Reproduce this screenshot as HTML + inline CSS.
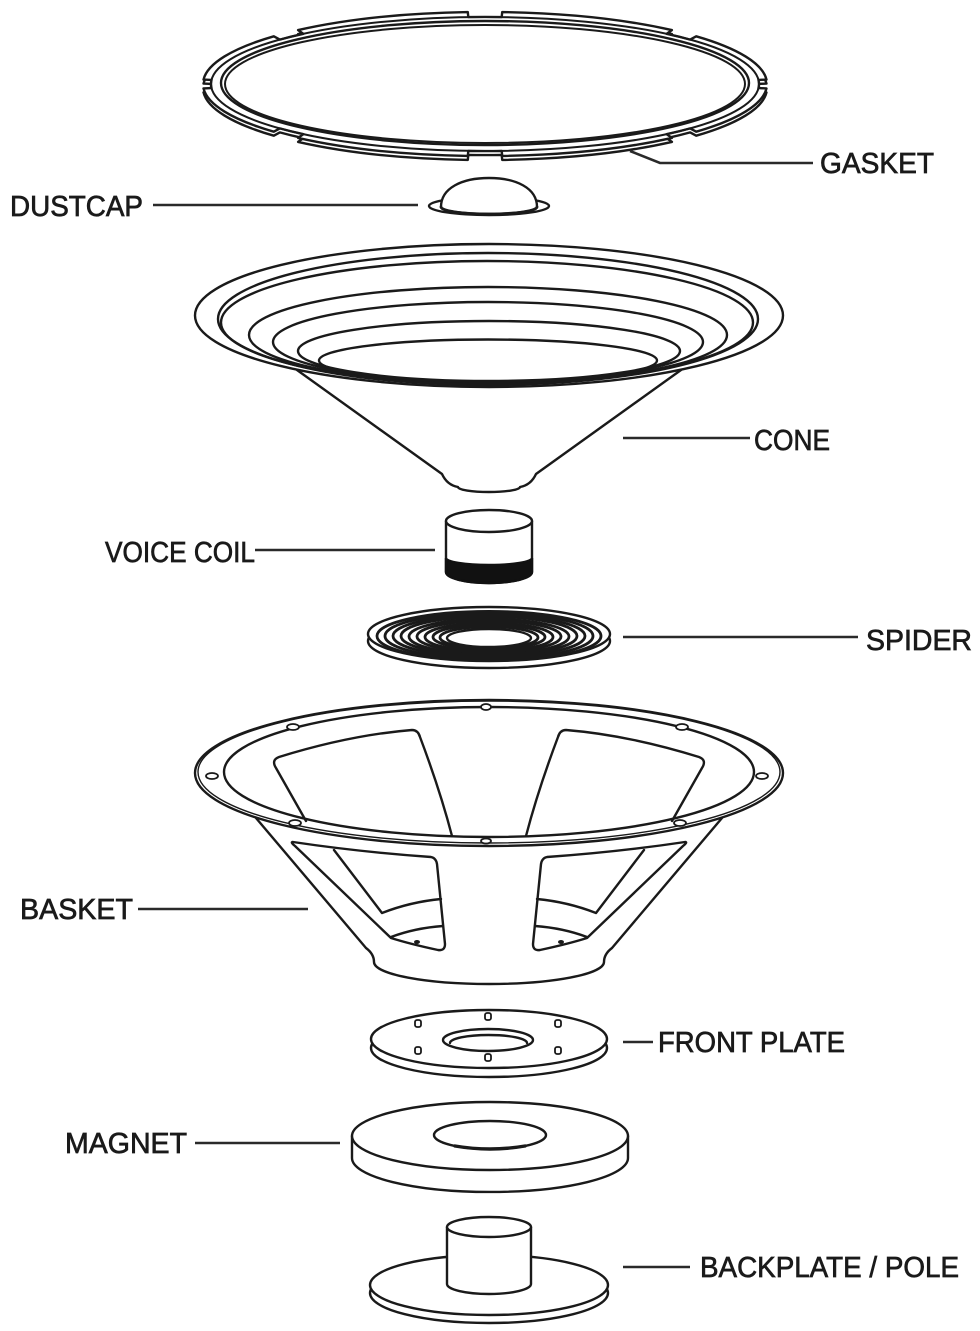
<!DOCTYPE html>
<html>
<head>
<meta charset="utf-8">
<style>
  html,body{margin:0;padding:0;background:#fff;}
  svg{display:block;}
  .d{fill:none;stroke:#1a1a1a;stroke-width:2.4;stroke-linejoin:round;stroke-linecap:round;}
  .w{fill:#fff;stroke:#1a1a1a;stroke-width:2.4;stroke-linejoin:round;stroke-linecap:round;}
  .l{fill:none;stroke:#2a2a2a;stroke-width:2.6;}
  .t{font-family:"Liberation Sans",Arial,sans-serif;font-size:29px;fill:#1a1a1a;stroke:#1a1a1a;stroke-width:0.7;}
</style>
</head>
<body>
<svg width="980" height="1331" viewBox="0 0 980 1331" xmlns="http://www.w3.org/2000/svg">

<!-- ================= GASKET ================= -->
<g>
  <path class="w" transform="translate(0,4)" d="M 766.5 88.4 A 282 72 0 0 1 696.2 131.7 L 690.2 128.4 A 274 67 0 0 1 666.6 134.2 L 671.9 137.9 A 282 72 0 0 1 502.2 155.9 L 501.7 150.9 A 274 67 0 0 1 468.3 150.9 L 467.8 155.9 A 282 72 0 0 1 298.1 137.9 L 303.4 134.2 A 274 67 0 0 1 279.8 128.4 L 273.8 131.7 A 282 72 0 0 1 203.5 88.4 L 211.5 88.1 A 274 67 0 0 1 211.5 79.9 L 203.5 79.6 A 282 72 0 0 1 273.8 36.3 L 279.8 39.6 A 274 67 0 0 1 303.4 33.8 L 298.1 30.1 A 282 72 0 0 1 467.8 12.1 L 468.3 17.1 A 274 67 0 0 1 501.7 17.1 L 502.2 12.1 A 282 72 0 0 1 671.9 30.1 L 666.6 33.8 A 274 67 0 0 1 690.2 39.6 L 696.2 36.3 A 282 72 0 0 1 766.5 79.6 L 758.5 79.9 A 274 67 0 0 1 758.5 88.1 Z"/>
  <path class="w" d="M 766.5 88.4 A 282 72 0 0 1 696.2 131.7 L 690.2 128.4 A 274 67 0 0 1 666.6 134.2 L 671.9 137.9 A 282 72 0 0 1 502.2 155.9 L 501.7 150.9 A 274 67 0 0 1 468.3 150.9 L 467.8 155.9 A 282 72 0 0 1 298.1 137.9 L 303.4 134.2 A 274 67 0 0 1 279.8 128.4 L 273.8 131.7 A 282 72 0 0 1 203.5 88.4 L 211.5 88.1 A 274 67 0 0 1 211.5 79.9 L 203.5 79.6 A 282 72 0 0 1 273.8 36.3 L 279.8 39.6 A 274 67 0 0 1 303.4 33.8 L 298.1 30.1 A 282 72 0 0 1 467.8 12.1 L 468.3 17.1 A 274 67 0 0 1 501.7 17.1 L 502.2 12.1 A 282 72 0 0 1 671.9 30.1 L 666.6 33.8 A 274 67 0 0 1 690.2 39.6 L 696.2 36.3 A 282 72 0 0 1 766.5 79.6 L 758.5 79.9 A 274 67 0 0 1 758.5 88.1 Z"/>
  <ellipse class="d" cx="485" cy="84" rx="274" ry="67" style="stroke-width:2"/>
  <ellipse class="w" cx="485" cy="83" rx="264" ry="62"/>
  <ellipse class="d" cx="485" cy="84" rx="260" ry="59" style="stroke-width:2"/>
</g>
<polyline class="l" points="630,151 660,163 813,163"/>
<text class="t" x="820" y="173" textLength="114" lengthAdjust="spacingAndGlyphs">GASKET</text>

<!-- ================= DUSTCAP ================= -->
<g>
  <ellipse class="w" cx="489" cy="206" rx="60" ry="9"/>
  <path class="w" d="M441 207 C441 188 462 178 489 178 C516 178 537 188 537 207 A48 7 0 0 1 441 207 Z"/>
  <path class="d" style="stroke-width:2.8" d="M441 207 A48 7 0 0 0 537 207"/>
</g>
<line class="l" x1="153" y1="205" x2="418" y2="205"/>
<text class="t" x="10" y="216" textLength="133" lengthAdjust="spacingAndGlyphs">DUSTCAP</text>

<!-- ================= CONE ================= -->
<g>
  <path class="w" d="M297 370 L442 474 Q447 485 458 487 A31 5 0 0 0 520 487 Q531 485 536 474 L681 370 Z"/>
  <ellipse class="w" cx="489" cy="315.5" rx="294" ry="71.5"/>
  <ellipse class="d" cx="488" cy="319" rx="270" ry="66"/>
  <ellipse class="d" cx="487" cy="322.5" rx="266" ry="61.5"/>
  <ellipse class="d" cx="488" cy="335" rx="239" ry="48"/>
  <ellipse class="d" cx="488" cy="342" rx="215" ry="40"/>
  <ellipse class="d" cx="489" cy="351" rx="191" ry="30"/>
  <ellipse class="d" cx="488" cy="360.5" rx="169" ry="21"/>
</g>
<line class="l" x1="623" y1="438" x2="750" y2="438"/>
<text class="t" x="754" y="450" textLength="76" lengthAdjust="spacingAndGlyphs">CONE</text>

<!-- ================= VOICE COIL ================= -->
<g>
  <path class="w" d="M446 521 L446 572 A43 11 0 0 0 532 572 L532 521 Z"/>
  <path d="M446 558 A43 7 0 0 0 532 558 L532 572 A43 11 0 0 1 446 572 Z" fill="#111" stroke="#111" stroke-width="2.4"/>
  <ellipse class="w" cx="489" cy="521" rx="43" ry="11"/>
</g>
<line class="l" x1="255" y1="550" x2="435" y2="550"/>
<text class="t" x="105" y="562" textLength="150" lengthAdjust="spacingAndGlyphs">VOICE COIL</text>

<!-- ================= SPIDER ================= -->
<g>
  <ellipse class="w" cx="489" cy="641" rx="121" ry="27"/>
  <ellipse class="w" cx="489" cy="634" rx="121" ry="27"/>
  <g class="d" style="stroke-width:2.8">
    <ellipse cx="489" cy="636" rx="112" ry="24.6"/>
    <ellipse cx="489" cy="636" rx="104" ry="22.9"/>
    <ellipse cx="489" cy="636" rx="96" ry="21.1"/>
    <ellipse cx="489" cy="636" rx="88" ry="19.4"/>
    <ellipse cx="489" cy="636.5" rx="80" ry="17.6"/>
    <ellipse cx="489" cy="636.5" rx="72" ry="15.8"/>
    <ellipse cx="489" cy="637" rx="64" ry="14.1"/>
    <ellipse cx="489" cy="637" rx="56" ry="12.3"/>
    <ellipse cx="489" cy="637.5" rx="49" ry="10.8"/>
  </g>
  <ellipse class="w" cx="489" cy="638" rx="42" ry="9"/>
</g>
<line class="l" x1="623" y1="637" x2="858" y2="637"/>
<text class="t" x="866" y="650" textLength="106" lengthAdjust="spacingAndGlyphs">SPIDER</text>

<!-- ================= BASKET ================= -->
<g>
  <path class="w" d="M256 818 L366 948 Q374 954 374 962 A115 22 0 0 0 604 962 Q604 954 612 948 L722 818 Z"/>
  <path class="w" d="M293 842 Q360 852 431 857 Q436 858 437 864 L445 944 Q445 951 438 950 Q410 944 391 938 L295 846 Q290 842 293 842 Z"/>
  <path class="d" d="M334 850 L382 913 Q410 902 441 899"/>
  <path class="d" d="M391 937 Q415 928 443 926"/>
  <ellipse cx="417" cy="942" rx="3" ry="2" fill="#1a1a1a"/>
  <path class="w" d="M685 842 Q618 852 547 857 Q542 858 541 864 L533 944 Q533 951 540 950 Q568 944 587 938 L683 846 Q688 842 685 842 Z"/>
  <path class="d" d="M644 850 L596 913 Q568 902 537 899"/>
  <path class="d" d="M587 937 Q563 928 535 926"/>
  <ellipse cx="561" cy="942" rx="3" ry="2" fill="#1a1a1a"/>
  <ellipse class="w" cx="489" cy="773" rx="294" ry="73"/>
  <ellipse class="d" cx="489" cy="772" rx="291" ry="71" style="stroke-width:1.4"/>
  <ellipse class="w" cx="489" cy="772" rx="265" ry="65"/>
  <path class="d" d="M306 821 L276 768 Q271 760 279 757 Q350 735 412 730 Q418 730 420 737 Q440 790 452 836"/>
  <path class="d" d="M672 821 L702 768 Q707 760 699 757 Q628 735 566 730 Q560 730 558 737 Q538 790 526 836"/>
  <g class="w" style="stroke-width:1.8">
    <ellipse cx="486" cy="707" rx="5" ry="3"/>
    <ellipse cx="293" cy="727" rx="6" ry="3"/>
    <ellipse cx="682" cy="727" rx="6" ry="3"/>
    <ellipse cx="212" cy="776" rx="6" ry="3"/>
    <ellipse cx="762" cy="776" rx="6" ry="3"/>
    <ellipse cx="295" cy="823" rx="6" ry="3"/>
    <ellipse cx="680" cy="823" rx="6" ry="3"/>
    <ellipse cx="486" cy="841" rx="5" ry="2.5"/>
  </g>
</g>
<line class="l" x1="138" y1="909" x2="308" y2="909"/>
<text class="t" x="20" y="919" textLength="113" lengthAdjust="spacingAndGlyphs">BASKET</text>

<!-- ================= FRONT PLATE ================= -->
<g>
  <ellipse class="w" cx="489" cy="1048" rx="118" ry="29"/>
  <ellipse class="w" cx="489" cy="1039" rx="118" ry="29"/>
  <ellipse class="w" cx="488" cy="1040" rx="45" ry="11"/>
  <path class="d" d="M450 1043 A38.5 8 0 0 1 527 1043"/>
  <g class="w" style="stroke-width:1.8">
    <rect x="485" y="1013" width="6" height="7" rx="2"/>
    <rect x="415" y="1020" width="6" height="7" rx="2"/>
    <rect x="555" y="1020" width="6" height="7" rx="2"/>
    <rect x="415" y="1047" width="6" height="7" rx="2"/>
    <rect x="555" y="1047" width="6" height="7" rx="2"/>
    <rect x="485" y="1054" width="6" height="7" rx="2"/>
  </g>
</g>
<line class="l" x1="623" y1="1042" x2="653" y2="1042"/>
<text class="t" x="658" y="1052" textLength="187" lengthAdjust="spacingAndGlyphs">FRONT PLATE</text>

<!-- ================= MAGNET ================= -->
<g>
  <path class="w" d="M352 1136 L352 1158 A138 34 0 0 0 628 1158 L628 1136 Z"/>
  <ellipse class="w" cx="490" cy="1136" rx="138" ry="34"/>
  <ellipse class="w" cx="490" cy="1135" rx="56" ry="14"/>
  <path class="d" style="stroke-width:3.4" d="M455 1146 Q490 1152 525 1146"/>
</g>
<line class="l" x1="195" y1="1143" x2="340" y2="1143"/>
<text class="t" x="65" y="1153" textLength="122" lengthAdjust="spacingAndGlyphs">MAGNET</text>

<!-- ================= BACKPLATE / POLE ================= -->
<g>
  <ellipse class="w" cx="489" cy="1293" rx="119" ry="30"/>
  <ellipse class="w" cx="489" cy="1285" rx="119" ry="30"/>
  <path class="w" d="M447 1227 L447 1284 A42 10 0 0 0 531 1284 L531 1227 Z"/>
  <ellipse class="w" cx="489" cy="1227" rx="42" ry="10"/>
</g>
<line class="l" x1="623" y1="1267" x2="690" y2="1267"/>
<text class="t" x="700" y="1277" textLength="259" lengthAdjust="spacingAndGlyphs">BACKPLATE / POLE</text>

</svg>
</body>
</html>
